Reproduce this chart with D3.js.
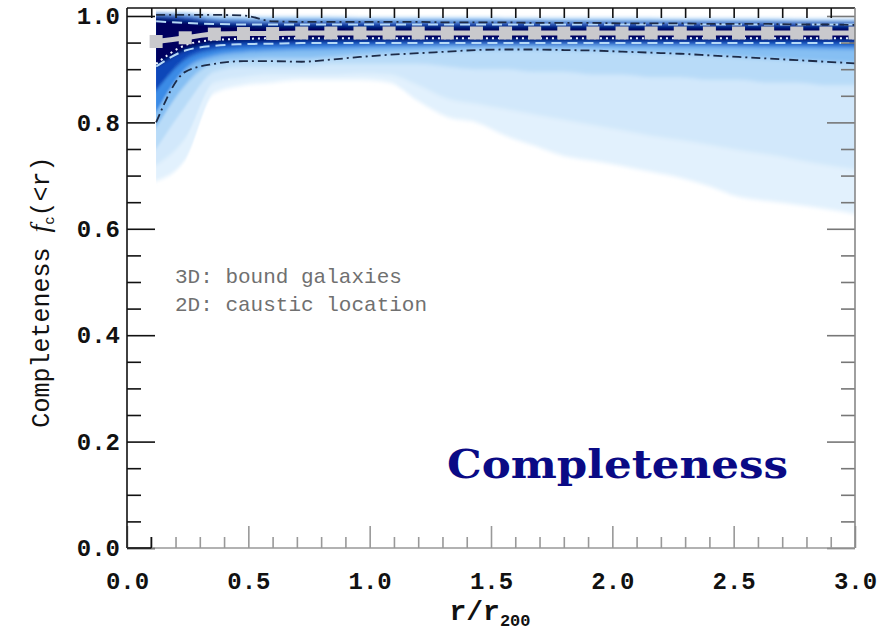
<!DOCTYPE html>
<html>
  <head>
    <script src="https://d3js.org/d3.v7.min.js"></script>
    <style>
      body { margin: 0; background: #fff; }
    </style>
  </head>
  <body>
    <script>

// radius bins (r/r200)
const xs = [0.12, 0.24, 0.36, 0.48, 0.60, 0.72, 0.84, 0.96, 1.08, 1.20, 1.32, 1.44, 1.56,
            1.68, 1.80, 1.92, 2.04, 2.16, 2.28, 2.40, 2.52, 2.64, 2.76, 2.88, 3.00];

// shaded distribution, outer (light) to inner (dark): lower / upper edges
const band1Lo = [0.69, 0.73, 0.855, 0.87, 0.875, 0.88, 0.88, 0.88, 0.875, 0.84, 0.81, 0.80, 0.775,
                 0.756, 0.737, 0.728, 0.718, 0.707, 0.696, 0.68, 0.66, 0.652, 0.645, 0.637, 0.628];
const band2Lo = [0.72, 0.77, 0.875, 0.885, 0.89, 0.89, 0.89, 0.892, 0.89, 0.87, 0.845, 0.835, 0.825,
                 0.815, 0.805, 0.795, 0.785, 0.775, 0.767, 0.758, 0.748, 0.74, 0.73, 0.72, 0.712];
const band3Lo = [0.75, 0.83, 0.895, 0.905, 0.905, 0.905, 0.91, 0.91, 0.91, 0.91, 0.905, 0.90, 0.90,
                 0.895, 0.895, 0.89, 0.89, 0.885, 0.885, 0.88, 0.88, 0.875, 0.875, 0.87, 0.87];
const band4Lo = [0.79, 0.87, 0.912, 0.918, 0.92, 0.92, 0.923, 0.927, 0.93, 0.932, 0.934, 0.936, 0.937,
                 0.937, 0.936, 0.935, 0.933, 0.931, 0.929, 0.926, 0.923, 0.92, 0.917, 0.914, 0.911];
const band5Lo = [0.82, 0.9, 0.925, 0.932, 0.935, 0.937, 0.938, 0.94, 0.941, 0.942, 0.943, 0.944, 0.944,
                 0.944, 0.944, 0.944, 0.943, 0.943, 0.942, 0.942, 0.941, 0.94, 0.94, 0.939, 0.938];
const band6Lo = [0.86, 0.918, 0.937, 0.942, 0.944, 0.945, 0.946, 0.946, 0.947, 0.947, 0.948, 0.948, 0.948,
                 0.948, 0.948, 0.948, 0.948, 0.947, 0.947, 0.947, 0.946, 0.946, 0.946, 0.945, 0.945];
const coreLo  = [0.905, 0.935, 0.948, 0.951, 0.952, 0.953, 0.953, 0.954, 0.954, 0.954, 0.954, 0.954, 0.954,
                 0.954, 0.954, 0.954, 0.954, 0.954, 0.954, 0.954, 0.954, 0.954, 0.954, 0.954, 0.954];
const outerHi = [1.006, 1.005, 1.0, 0.998, 0.997, 0.997, 0.997, 0.996, 0.996, 0.996, 0.996, 0.996, 0.995,
                 0.995, 0.995, 0.995, 0.995, 0.995, 0.994, 0.994, 0.994, 0.994, 0.993, 0.993, 0.993];
const innerHi = [1.003, 1.0, 0.993, 0.991, 0.99, 0.99, 0.99, 0.99, 0.989, 0.989, 0.989, 0.989, 0.989,
                 0.989, 0.988, 0.988, 0.988, 0.988, 0.988, 0.988, 0.988, 0.988, 0.988, 0.988, 0.988];
const coreHi  = [0.997, 0.992, 0.986, 0.984, 0.983, 0.982, 0.982, 0.981, 0.981, 0.981, 0.981, 0.981, 0.981,
                 0.981, 0.98, 0.98, 0.98, 0.98, 0.98, 0.98, 0.98, 0.98, 0.98, 0.98, 0.98];

// lines
const median = [0.952, 0.959, 0.966, 0.967, 0.967, 0.968, 0.968, 0.968, 0.968, 0.968, 0.968, 0.968, 0.968,
                0.968, 0.968, 0.968, 0.968, 0.968, 0.968, 0.968, 0.968, 0.968, 0.968, 0.968, 0.968];
const up95 = [1.002, 1.002, 1.002, 1.001, 0.99, 0.989, 0.989, 0.989, 0.989, 0.989, 0.988, 0.988, 0.988,
              0.987, 0.987, 0.987, 0.986, 0.986, 0.986, 0.985, 0.985, 0.985, 0.984, 0.984, 0.983];
const lo95 = [0.80, 0.895, 0.91, 0.915, 0.915, 0.914, 0.918, 0.923, 0.927, 0.93, 0.933, 0.936, 0.937,
              0.937, 0.936, 0.935, 0.933, 0.931, 0.929, 0.926, 0.923, 0.92, 0.917, 0.914, 0.911];
const hiDash = [0.99, 0.987, 0.985, 0.984, 0.984, 0.984, 0.984, 0.984, 0.984, 0.984, 0.984, 0.984, 0.984,
                0.984, 0.984, 0.984, 0.984, 0.984, 0.984, 0.984, 0.984, 0.984, 0.984, 0.984, 0.984];
const loDash = [0.905, 0.935, 0.944, 0.947, 0.948, 0.949, 0.949, 0.949, 0.949, 0.949, 0.949, 0.949, 0.949,
                0.949, 0.949, 0.949, 0.949, 0.949, 0.949, 0.949, 0.949, 0.949, 0.949, 0.949, 0.949];
const loDot = [0.91, 0.945, 0.955, 0.957, 0.958, 0.958, 0.958, 0.958, 0.958, 0.958, 0.958, 0.958, 0.958,
               0.958, 0.958, 0.958, 0.958, 0.958, 0.958, 0.958, 0.958, 0.958, 0.958, 0.958, 0.958];

const yTicks = [0.0, 0.2, 0.4, 0.6, 0.8, 1.0];
const xTicks = [0.0, 0.5, 1.0, 1.5, 2.0, 2.5, 3.0];
const legendLines = ["3D: bound galaxies", "2D: caustic location"];

const width = 894;
const height = 635;

const x = d3.scaleLinear().domain([0, 3]).range([127, 855]);
const y = d3.scaleLinear().domain([0, 1.015]).range([548, 8]);

const svg = d3.select("body").append("svg")
    .attr("width", width)
    .attr("height", height);

const defs = svg.append("defs");
defs.append("filter").attr("id", "soft")
    .attr("x", "-5%").attr("y", "-20%").attr("width", "110%").attr("height", "140%")
  .append("feGaussianBlur").attr("stdDeviation", "0 2.2");
defs.append("clipPath").attr("id", "plot")
  .append("rect").attr("x", x(0)).attr("y", y(1.015))
    .attr("width", x(3) - x(0)).attr("height", y(0) - y(1.015));

const bands = [
  { lo: band1Lo, hi: outerHi, color: "#e2f1fd" },
  { lo: band2Lo, hi: outerHi, color: "#d2e8fb" },
  { lo: band3Lo, hi: outerHi, color: "#b8dbf8" },
  { lo: band4Lo, hi: outerHi, color: "#86bff3" },
  { lo: band5Lo, hi: innerHi, color: "#3b8be6" },
  { lo: band6Lo, hi: innerHi, color: "#0f46b9" },
  { lo: coreLo,  hi: coreHi,  color: "#03035f" }
];

const area = (lo, hi) => d3.area()
    .x((d, i) => x(xs[i]))
    .y0((d, i) => y(lo[i]))
    .y1((d, i) => y(hi[i]))
    .curve(d3.curveMonotoneX)(xs);

const plot = svg.append("g").attr("clip-path", "url(#plot)");
const shade = plot.append("g").attr("filter", "url(#soft)");
shade.selectAll("path")
  .data(bands)
  .enter().append("path")
    .attr("d", d => area(d.lo, d.hi))
    .attr("fill", d => d.color);

const line = vals => d3.line()
    .x((d, i) => x(xs[i]))
    .y((d, i) => y(vals[i]))
    .curve(d3.curveMonotoneX)(xs);

const lines = [
  { v: hiDash, stroke: "#b5d9f7", w: 2, dash: "10,6" },
  { v: loDash, stroke: "#b5d9f7", w: 2, dash: "10,6" },
  { v: loDot,  stroke: "#eef6ff", w: 2, dash: "2,4" },
  { v: up95,   stroke: "#1d2b47", w: 1.8, dash: "9,4,2,4" },
  { v: lo95,   stroke: "#1d2b47", w: 1.8, dash: "9,4,2,4" },
  { v: median, stroke: "#c9c9cd", w: 5, dash: null }
];

plot.selectAll(".ln")
  .data(lines)
  .enter().append("path")
    .attr("class", "ln")
    .attr("d", d => line(d.v))
    .attr("fill", "none")
    .attr("stroke", d => d.stroke)
    .attr("stroke-width", d => d.w)
    .attr("stroke-dasharray", d => d.dash);

plot.selectAll(".sq")
  .data(xs)
  .enter().append("rect")
    .attr("class", "sq")
    .attr("x", d => x(d) - 6.5)
    .attr("y", (d, i) => y(median[i]) - 6.5)
    .attr("width", 13)
    .attr("height", 13)
    .attr("fill", "#c9c9cd");

// axes
const minorY = d3.range(0, 1.0001, 0.05).filter(v => Math.abs(v * 5 - Math.round(v * 5)) > 1e-6);
const minorX = d3.range(0, 3.0001, 0.1).filter(v => Math.abs(v * 2 - Math.round(v * 2)) > 1e-6);
const allX = d3.range(0.1, 2.95, 0.1);
const fmt = d3.format(".1f");

function styleAxis(g, color) {
  g.select(".domain").remove();
  g.selectAll("line").attr("stroke", color).attr("stroke-width", 1.6);
  g.selectAll("text")
    .attr("fill", "#111")
    .attr("font-family", "Liberation Mono, DejaVu Sans Mono, monospace")
    .attr("font-weight", "bold")
    .attr("font-size", 24);
}

svg.append("g").attr("transform", `translate(${x(0)},0)`)
    .call(d3.axisLeft(y).tickValues(yTicks).tickSize(-28).tickPadding(7).tickFormat(fmt))
    .call(g => styleAxis(g, "#111"));
svg.append("g").attr("transform", `translate(${x(0)},0)`)
    .call(d3.axisLeft(y).tickValues(minorY).tickSize(-14).tickFormat(""))
    .call(g => styleAxis(g, "#111"));
svg.append("g").attr("transform", `translate(${x(3)},0)`)
    .call(d3.axisRight(y).tickValues(yTicks).tickSize(-28).tickFormat(""))
    .call(g => styleAxis(g, "#777"));
svg.append("g").attr("transform", `translate(${x(3)},0)`)
    .call(d3.axisRight(y).tickValues(minorY).tickSize(-14).tickFormat(""))
    .call(g => styleAxis(g, "#777"));
svg.append("g").attr("transform", `translate(0,${y(0)})`)
    .call(d3.axisBottom(x).tickValues(xTicks).tickSize(-22).tickPadding(24).tickFormat(fmt))
    .call(g => styleAxis(g, "#999"));
svg.append("g").attr("transform", `translate(0,${y(0)})`)
    .call(d3.axisBottom(x).tickValues(minorX).tickSize(-11).tickFormat(""))
    .call(g => styleAxis(g, "#999"));
svg.append("g").attr("transform", `translate(0,${y(1.015)})`)
    .call(d3.axisTop(x).tickValues(allX).tickSize(-10).tickFormat(""))
    .call(g => styleAxis(g, "#111"));

// frame
const frame = svg.append("g").attr("fill", "none").attr("stroke-width", 1.6);
frame.append("line").attr("x1", x(0)).attr("x2", x(3)).attr("y1", y(1.015)).attr("y2", y(1.015)).attr("stroke", "#111");
frame.append("line").attr("x1", x(0)).attr("x2", x(0)).attr("y1", y(1.015)).attr("y2", y(0)).attr("stroke", "#111");
frame.append("line").attr("x1", x(3)).attr("x2", x(3)).attr("y1", y(1.015)).attr("y2", y(0)).attr("stroke", "#888");
frame.append("line").attr("x1", x(0)).attr("x2", x(3)).attr("y1", y(0)).attr("y2", y(0)).attr("stroke", "#999");
frame.append("line").attr("x1", x(0)).attr("x2", x(0.1)).attr("y1", y(0)).attr("y2", y(0)).attr("stroke", "#111");
frame.append("line").attr("x1", x(0.1)).attr("x2", x(0.1)).attr("y1", y(0)).attr("y2", y(0) - 11).attr("stroke", "#111");

// axis titles
const yt = svg.append("text")
    .attr("transform", `translate(49,292) rotate(-90)`)
    .attr("text-anchor", "middle")
    .attr("font-family", "Liberation Mono, monospace")
    .attr("font-size", 25)
    .attr("fill", "#111");
yt.append("tspan").text("Completeness ");
yt.append("tspan").attr("font-style", "italic").attr("font-family", "Liberation Serif, serif").attr("font-size", 28).text("f");
yt.append("tspan").attr("font-size", 14).attr("dy", 5).text("c");
yt.append("tspan").attr("dy", -5).text("(<r)");

const xt = svg.append("text")
    .attr("x", 490).attr("y", 620)
    .attr("text-anchor", "middle")
    .attr("font-family", "Liberation Mono, monospace")
    .attr("font-weight", "bold")
    .attr("font-size", 28)
    .attr("fill", "#111");
xt.append("tspan").text("r/r");
xt.append("tspan").attr("font-size", 17).attr("dy", 6).text("200");

svg.selectAll(".legend")
  .data(legendLines)
  .enter().append("text")
    .attr("class", "legend")
    .attr("x", 175)
    .attr("y", (d, i) => 283 + i * 28)
    .attr("font-family", "Liberation Mono, monospace")
    .attr("font-size", 21)
    .attr("fill", "#707070")
    .text(d => d);

svg.append("text")
    .attr("x", 447).attr("y", 478)
    .attr("font-family", "DejaVu Serif, serif")
    .attr("font-weight", "bold")
    .attr("font-size", 39)
    .attr("textLength", 341)
    .attr("lengthAdjust", "spacingAndGlyphs")
    .attr("fill", "#0a0a85")
    .text("Completeness");

    </script>
  </body>
</html>
